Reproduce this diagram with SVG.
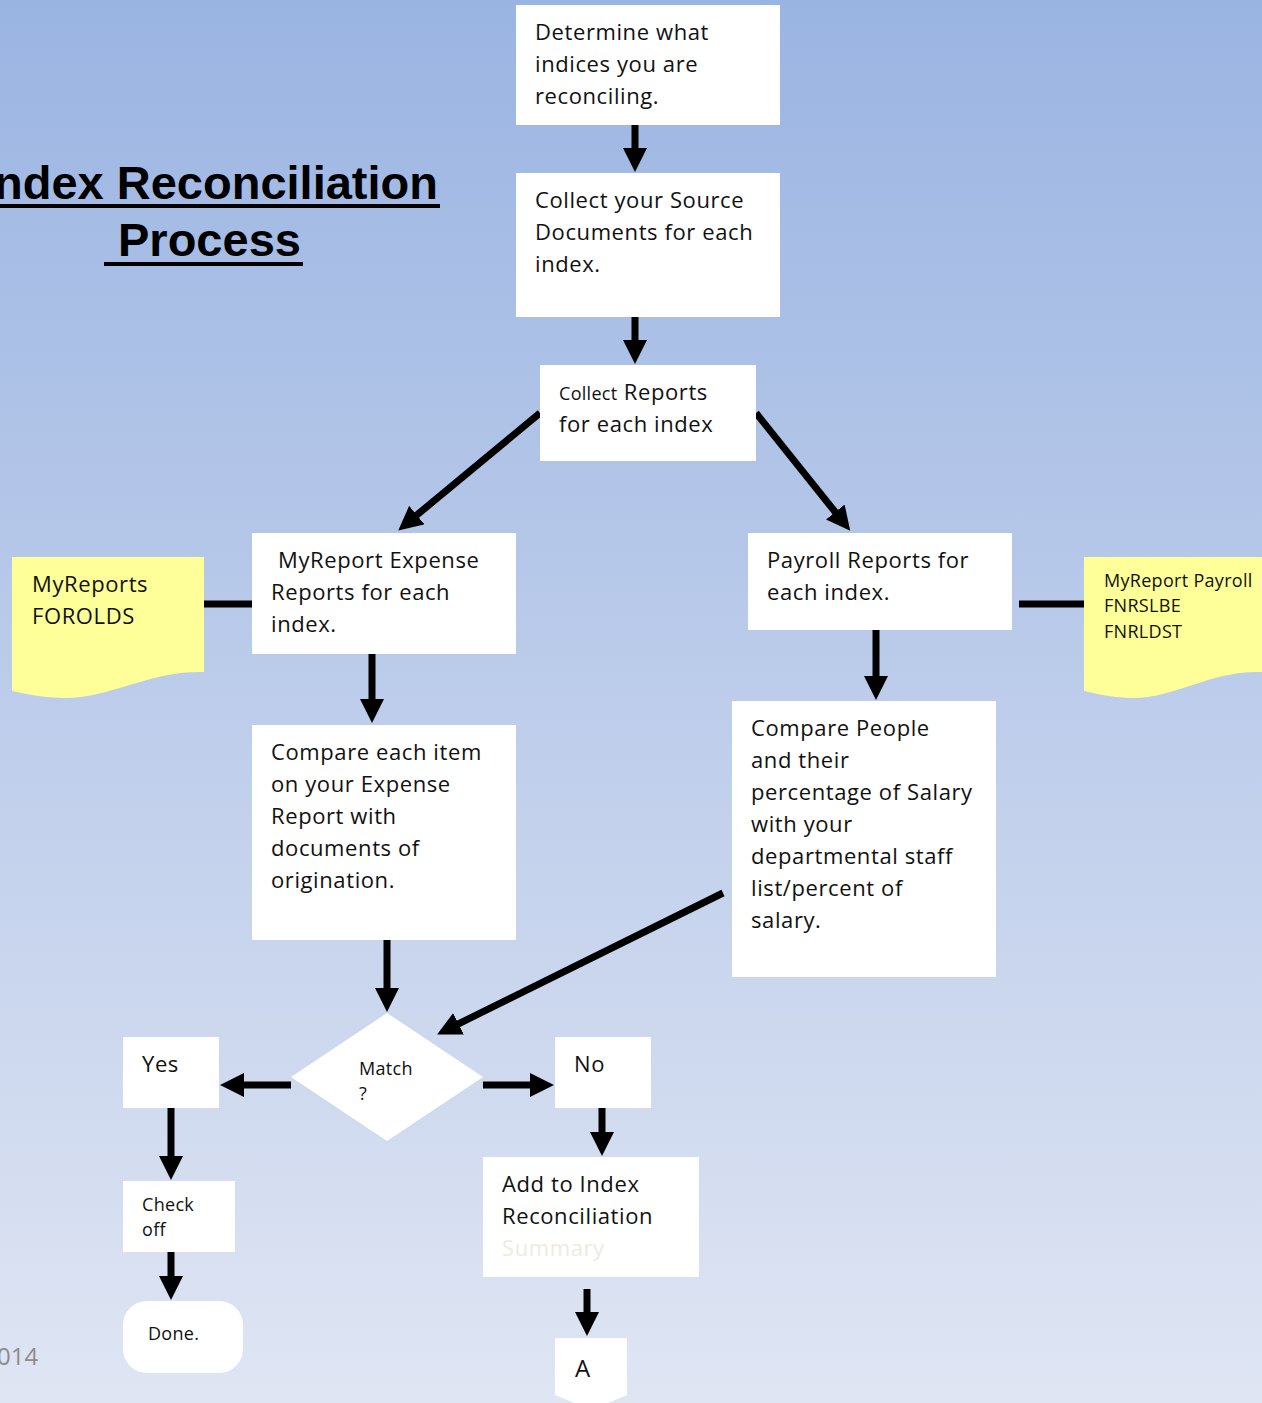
<svg xmlns="http://www.w3.org/2000/svg" width="1262" height="1403" viewBox="0 0 1262 1403">
<defs>
<linearGradient id="bg" x1="0" y1="0" x2="0" y2="1">
<stop offset="0" stop-color="#9ab4e2"/>
<stop offset="1" stop-color="#dfe5f3"/>
</linearGradient>
<marker id="ah" markerUnits="userSpaceOnUse" markerWidth="24" markerHeight="24" refX="14" refY="12" orient="auto">
<path d="M0,0 L24,12 L0,24 Z" fill="#000"/>
</marker>
<style>
.box{fill:#fff}
.note{fill:#ffff99}
.t{font-family:"Open Sans","Lato",sans-serif;font-size:22px;letter-spacing:0.6px;fill:#111}
.s{font-family:"Open Sans","Lato",sans-serif;font-size:18px;letter-spacing:0.3px;fill:#111}
.title{font-family:"Liberation Sans",Arial,sans-serif;font-size:47px;font-weight:bold;fill:#000}
.c{stroke:#000;stroke-width:7;fill:none}
.ca{stroke:#000;stroke-width:7;fill:none;marker-end:url(#ah)}
</style>
</defs>
<rect x="0" y="0" width="1262" height="1403" fill="url(#bg)"/>

<g id="title">
<text class="title" x="438" y="199" text-anchor="end">ndex Reconciliation</text>
<rect x="0" y="204" width="440" height="4" fill="#000"/>
<text class="title" x="118" y="256">Process</text>
<rect x="104" y="262" width="199" height="4" fill="#000"/>
</g>

<g id="year"><text x="-3" y="1365" style="font-family:'Open Sans',Lato,sans-serif;font-size:24px;fill:#8c8c8c">014</text></g>

<g id="connectors">
<line class="ca" x1="635" y1="125" x2="635" y2="162"/>
<line class="ca" x1="635" y1="317" x2="635" y2="354"/>
<line class="ca" x1="540" y1="413" x2="406" y2="524"/>
<line class="ca" x1="756" y1="413" x2="844" y2="523"/>
<line class="c" x1="204" y1="604" x2="252" y2="604"/>
<line class="c" x1="1019" y1="604" x2="1092" y2="604"/>
<line class="ca" x1="372" y1="654" x2="372" y2="713"/>
<line class="ca" x1="876" y1="630" x2="876" y2="690"/>
<line class="ca" x1="387" y1="940" x2="387" y2="1002"/>
<line class="ca" x1="723" y1="893" x2="446" y2="1030"/>
<line class="ca" x1="483" y1="1085" x2="544" y2="1085"/>
<line class="ca" x1="291" y1="1085" x2="230" y2="1085"/>
<line class="ca" x1="171" y1="1108" x2="171" y2="1170"/>
<line class="ca" x1="171" y1="1252" x2="171" y2="1290"/>
<line class="ca" x1="602" y1="1108" x2="602" y2="1146"/>
<line class="ca" x1="587" y1="1289" x2="587" y2="1326"/>
</g>

<g id="n1"><rect class="box" x="516" y="5" width="264" height="120"/>
<text class="t" x="535" y="40">Determine what</text>
<text class="t" x="535" y="72">indices you are</text>
<text class="t" x="535" y="104">reconciling.</text></g>

<g id="n2"><rect class="box" x="516" y="173" width="264" height="144"/>
<text class="t" x="535" y="208">Collect your Source</text>
<text class="t" x="535" y="240">Documents for each</text>
<text class="t" x="535" y="272">index.</text></g>

<g id="n3"><rect class="box" x="540" y="365" width="216" height="96"/>
<text class="t" x="559" y="400"><tspan style="font-size:18px;letter-spacing:0.3px">Collect</tspan> Reports</text>
<text class="t" x="559" y="432">for each index</text></g>

<g id="n4"><rect class="box" x="252" y="533" width="264" height="121"/>
<text class="t" x="278" y="568">MyReport Expense</text>
<text class="t" x="271" y="600">Reports for each</text>
<text class="t" x="271" y="632">index.</text></g>

<g id="n5"><rect class="box" x="748" y="533" width="264" height="97"/>
<text class="t" x="767" y="568">Payroll Reports for</text>
<text class="t" x="767" y="600">each index.</text></g>

<g id="note1"><path class="note" d="M12,557 H204 V672 C150,670 110,699 62,698 C40,697 25,694 12,691 Z"/>
<text class="t" x="32" y="592">MyReports</text>
<text class="t" x="32" y="624">FOROLDS</text></g>

<g id="note2"><path class="note" d="M1084,557 H1262 V672 C1210,670 1175,699 1130,698 C1110,697 1097,694 1084,691 Z"/>
<text class="s" x="1104" y="587">MyReport Payroll</text>
<text class="s" x="1104" y="612">FNRSLBE</text>
<text class="s" x="1104" y="638">FNRLDST</text></g>

<g id="n6"><rect class="box" x="252" y="725" width="264" height="215"/>
<text class="t" x="271" y="760">Compare each item</text>
<text class="t" x="271" y="792">on your Expense</text>
<text class="t" x="271" y="824">Report with</text>
<text class="t" x="271" y="856">documents of</text>
<text class="t" x="271" y="888">origination.</text></g>

<g id="n7"><rect class="box" x="732" y="701" width="264" height="276"/>
<text class="t" x="751" y="736">Compare People</text>
<text class="t" x="751" y="768">and their</text>
<text class="t" x="751" y="800">percentage of Salary</text>
<text class="t" x="751" y="832">with your</text>
<text class="t" x="751" y="864">departmental staff</text>
<text class="t" x="751" y="896">list/percent of</text>
<text class="t" x="751" y="928">salary.</text></g>

<g id="match"><polygon class="box" points="387,1013 483,1077 387,1141 291,1077"/>
<text class="s" x="359" y="1075">Match</text>
<text class="s" x="359" y="1100">?</text></g>

<g id="yes"><rect class="box" x="123" y="1037" width="96" height="71"/>
<text class="t" x="142" y="1072">Yes</text></g>

<g id="no"><rect class="box" x="555" y="1037" width="96" height="71"/>
<text class="t" x="574" y="1072">No</text></g>

<g id="check"><rect class="box" x="123" y="1181" width="112" height="71"/>
<text class="s" x="142" y="1211">Check</text>
<text class="s" x="142" y="1236">off</text></g>

<g id="done"><rect class="box" x="123" y="1301" width="120" height="72" rx="24" ry="24"/>
<text class="s" x="148" y="1340">Done.</text></g>

<g id="add"><rect class="box" x="483" y="1157" width="216" height="120"/>
<text class="t" x="502" y="1192">Add to Index</text>
<text class="t" x="502" y="1224">Reconciliation</text>
<text class="t" x="502" y="1256" style="fill:#eeebe0">Summary</text></g>

<g id="offpage"><polygon class="box" points="555,1338 627,1338 627,1395 591,1410 555,1395"/>
<text class="t" x="575" y="1377" style="font-size:24px">A</text></g>
</svg>
